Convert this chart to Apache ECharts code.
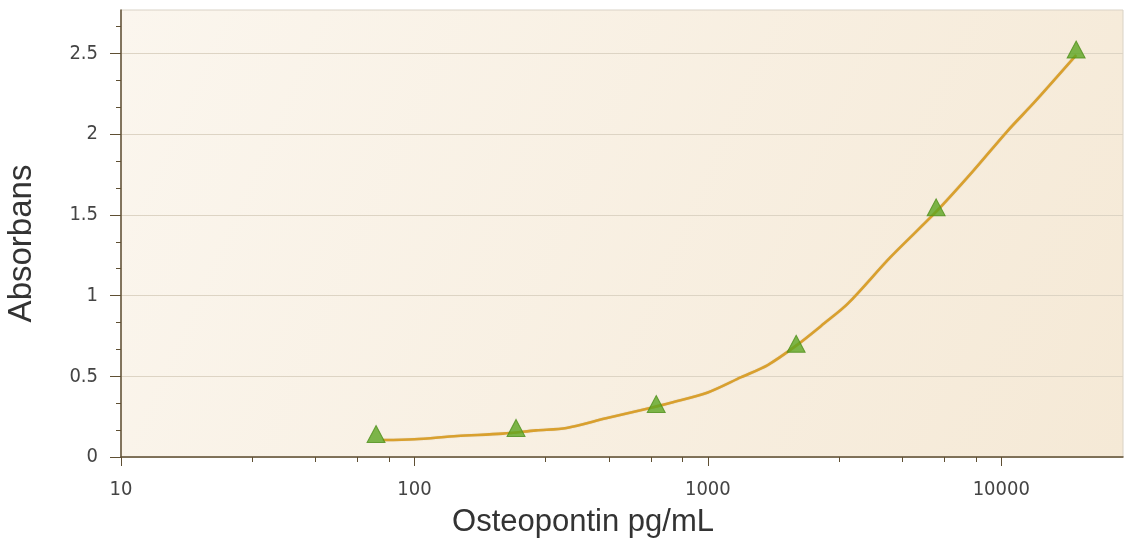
<!DOCTYPE html>
<html>
<head>
<meta charset="utf-8">
<script src="https://cdn.jsdelivr.net/npm/echarts@6/dist/echarts.min.js"></script>
<style>
  html, body { margin: 0; padding: 0; background: #ffffff; }
  #chart { width: 1131px; height: 549px; }
</style>
</head>
<body>
<div id="chart"></div>
<script>
// Standards: three-fold dilution series (pg/mL) and measured absorbance
const standardConc = [74, 222, 667, 2000, 6000, 18000];
const standardAbs = [0.142, 0.18, 0.328, 0.702, 1.547, 2.525];

// Fitted standard curve, sampled along the concentration range
const curveConc = [78, 100, 140, 200, 260, 330, 450, 590, 760, 1000, 1300, 1600, 2000, 2500, 3000, 4200, 6000, 8000, 10500, 13000, 18000];
const curveAbs = [0.105, 0.11, 0.13, 0.145, 0.165, 0.18, 0.24, 0.29, 0.34, 0.40, 0.495, 0.57, 0.69, 0.83, 0.95, 1.24, 1.52, 1.77, 2.02, 2.20, 2.49];

// Axis tick labels
const xTicks = [10, 100, 1000, 10000];
const yTicks = [0, 0.5, 1, 1.5, 2, 2.5];

const chart = echarts.init(document.getElementById('chart'), null, { renderer: 'canvas' });

const axisColor = '#5f4f33';
const labelFont = '"DejaVu Sans Condensed", "DejaVu Sans", sans-serif';
const nameFont = '"Liberation Sans", Arial, sans-serif';

chart.setOption({
  animation: false,
  grid: {
    left: 121, top: 10, right: 8, bottom: 92,
    outerBoundsMode: 'none',
    containLabel: false,
    show: true,
    borderColor: '#d9d2c6',
    borderWidth: 1,
    backgroundColor: new echarts.graphic.LinearGradient(0, 0, 1, 1, [
      { offset: 0, color: '#fbf6ee' },
      { offset: 1, color: '#f5e9d6' }
    ])
  },
  xAxis: {
    type: 'log',
    logBase: 10,
    min: 10,
    max: 26000,
    name: 'Osteopontin pg/mL',
    nameLocation: 'middle',
    nameGap: 50,
    nameTextStyle: { fontFamily: nameFont, fontSize: 31, color: '#333333', padding: [0, 78, 0, 0] },
    axisLine: { show: true, lineStyle: { color: axisColor, width: 1.5 } },
    axisTick: { show: true, length: 9, customValues: xTicks, lineStyle: { color: axisColor } },
    minorTick: { show: true, splitNumber: 5, length: 5, lineStyle: { color: axisColor } },
    axisLabel: {
      customValues: xTicks,
      margin: 23,
      fontFamily: labelFont,
      fontSize: 20,
      color: '#444444',
      formatter: (v) => String(Math.round(v))
    },
    splitLine: { show: false }
  },
  yAxis: {
    type: 'value',
    min: 0,
    max: 2.77,
    interval: 0.5,
    name: 'Absorbans',
    nameLocation: 'middle',
    nameGap: 83,
    nameTextStyle: { fontFamily: nameFont, fontSize: 33, color: '#333333', padding: [0, 20, 0, 0] },
    axisLine: { show: true, lineStyle: { color: axisColor, width: 1.5 } },
    axisTick: { show: true, length: 11, customValues: yTicks, lineStyle: { color: axisColor } },
    minorTick: { show: true, splitNumber: 3, length: 5, lineStyle: { color: axisColor } },
    axisLabel: {
      customValues: yTicks,
      margin: 23,
      fontFamily: labelFont,
      fontSize: 20,
      color: '#444444'
    },
    splitLine: { show: true, lineStyle: { color: '#ddd4c4', width: 1 } }
  },
  series: [
    {
      name: 'Curve',
      type: 'line',
      data: curveConc.map((c, i) => [c, curveAbs[i]]),
      smooth: 0.3,
      showSymbol: false,
      lineStyle: { color: '#d9a02e', width: 2.6, shadowColor: 'rgba(150,110,20,0.35)', shadowBlur: 1 },
      z: 2
    },
    {
      name: 'Standards',
      type: 'scatter',
      data: standardConc.map((c, i) => [c, standardAbs[i]]),
      symbol: 'triangle',
      symbolSize: [18, 17],
      itemStyle: { color: '#5ca521', borderColor: '#4d8e1a', borderWidth: 1 },
      z: 3
    }
  ]
});
</script>
</body>
</html>
